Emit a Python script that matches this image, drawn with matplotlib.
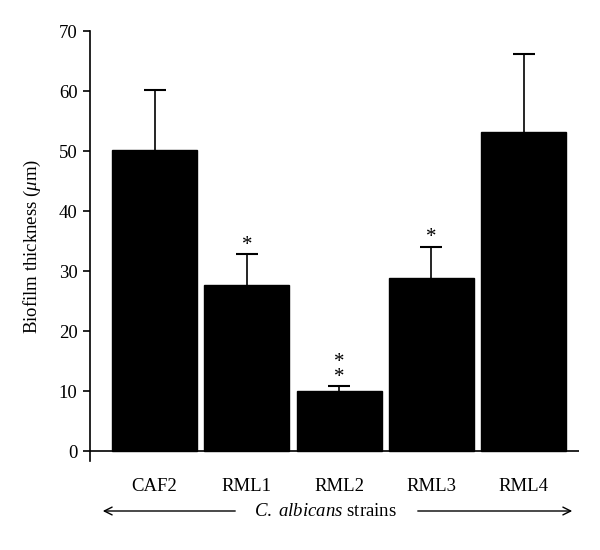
import matplotlib
matplotlib.use('Agg')
import matplotlib.pyplot as plt

plt.rcParams['font.family'] = ['Liberation Serif', 'DejaVu Serif']
plt.rcParams['mathtext.fontset'] = 'custom'
plt.rcParams['mathtext.it'] = 'Liberation Serif:italic'
plt.rcParams['mathtext.rm'] = 'Liberation Serif'

# Data
strains = ['CAF2', 'RML1', 'RML2', 'RML3', 'RML4']
thickness = [50.1, 27.7, 10.05, 28.8, 53.2]
err = [10.0, 5.1, 0.75, 5.25, 13.0]
stars = ['', '*', '*\n*', '*', '']

fig = plt.figure(figsize=(6, 5.5), dpi=100)
ax = fig.add_axes([0.15, 1 - 461 / 550, 0.965 - 0.15, (461 - 31) / 550])

x = list(range(len(strains)))
# error bars behind the bars so only the upper half shows
ax.errorbar(x, thickness, yerr=err, fmt='none', ecolor='black',
            elinewidth=1.2, capsize=8, capthick=1.5, zorder=2)
ax.bar(x, thickness, width=0.92, color='black', edgecolor='black', zorder=3)

# significance marks above the error bars
for xi, h, e, s in zip(x, thickness, err, stars):
    if s:
        ax.text(xi, h + e - 0.1, s, ha='center', va='bottom',
                fontsize=15, linespacing=0.7)

ax.set_xlim(-0.70, 4.6)
ax.set_ylim(-10 / 6, 70)
ax.set_yticks(range(0, 71, 10))
ax.axhline(0, color='black', lw=1.2, zorder=4)

ax.spines['top'].set_visible(False)
ax.spines['right'].set_visible(False)
ax.spines['bottom'].set_visible(False)
ax.spines['left'].set_linewidth(1.2)

ax.set_xticks(x)
ax.set_xticklabels(strains, fontsize=13.5)
ax.tick_params(axis='x', length=0, pad=12)
ax.tick_params(axis='y', direction='out', length=5, width=1.2, labelsize=13.5, pad=4)

ax.set_ylabel(r'Biofilm thickness ($\mathit{\mu}$m)', fontsize=13.5, labelpad=11)

# bottom caption with arrows
fig.text(0.543, 1 - 511 / 550, r'$\it{C.\ albicans}$ strains', ha='center', va='center', fontsize=13.5)
fig.add_artist(matplotlib.patches.FancyArrowPatch(
    (238 / 600, 1 - 511 / 550), (100 / 600, 1 - 511 / 550), transform=fig.transFigure,
    arrowstyle='->', mutation_scale=14, lw=1.0, color='black'))
fig.add_artist(matplotlib.patches.FancyArrowPatch(
    (415 / 600, 1 - 511 / 550), (575 / 600, 1 - 511 / 550), transform=fig.transFigure,
    arrowstyle='->', mutation_scale=14, lw=1.0, color='black'))

fig.savefig('out.png', dpi=100, facecolor='white')
